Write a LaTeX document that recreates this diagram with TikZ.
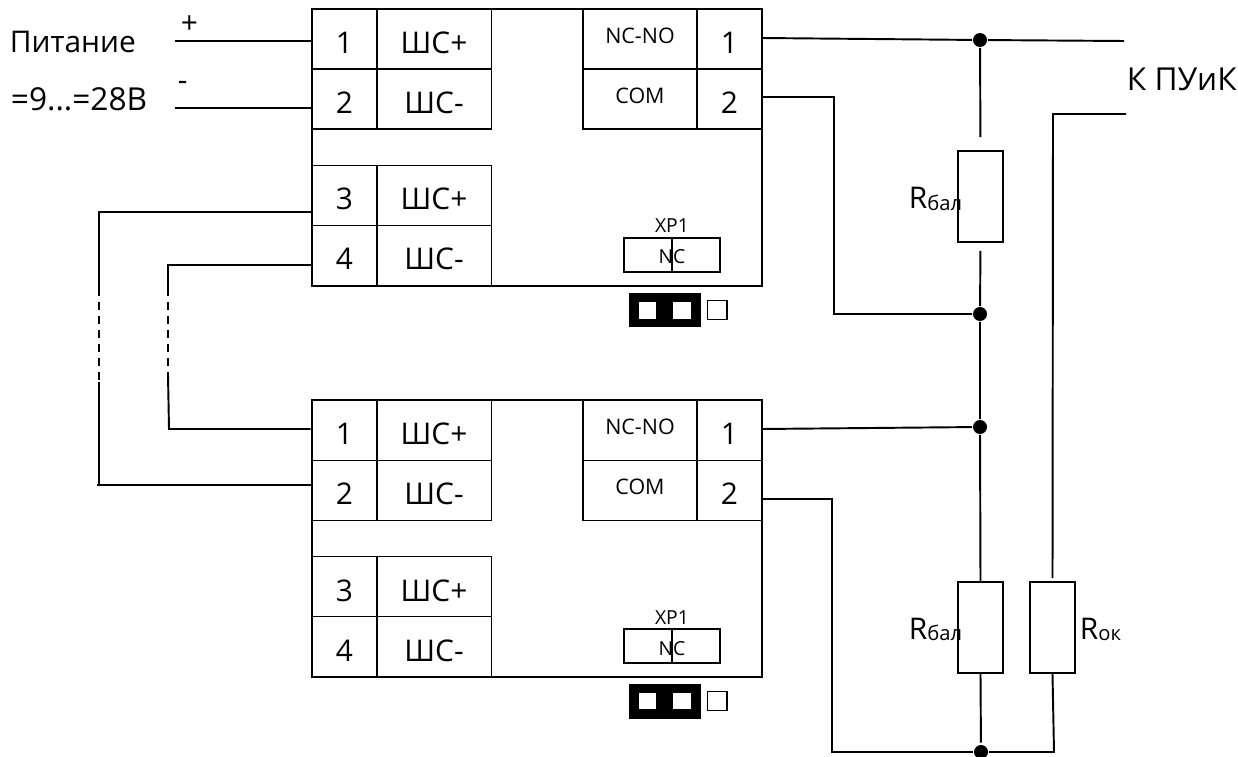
\documentclass[tikz,border=0pt]{standalone}
\usepackage{fontspec}
\setmainfont{Open Sans}

\begin{document}
\begin{tikzpicture}[x=0.02cm,y=-0.02cm,line width=1.1pt,
    numcell/.style={draw,inner sep=0pt,minimum width=1.3cm,minimum height=1.2cm,text height=0.58cm,text depth=0pt,font=\fontsize{17}{20}\selectfont},
    shcell/.style={numcell,minimum width=2.3cm},
    relcell/.style={draw,inner sep=0pt,minimum width=2.28cm,minimum height=1.2cm,text height=0.35cm,text depth=0.18cm,font=\fontsize{12.2}{14}\selectfont},
    block/.style={draw,minimum width=9.02cm,minimum height=5.54cm},
    xpbox/.style={draw,inner sep=0pt,minimum width=1.92cm,minimum height=0.68cm,text height=0.36cm,text depth=0pt,font=\fontsize{11}{13}\selectfont},
    xplabel/.style={anchor=base,inner sep=0pt,font=\fontsize{11}{13}\selectfont},
    res/.style={draw,inner sep=0pt,minimum width=0.9cm,minimum height=1.82cm},
    dot/.style={circle,fill=black,inner sep=0pt,minimum size=0.28cm},
    txt/.style={anchor=base west,inner sep=0pt,font=\fontsize{17}{20}\selectfont},
    bigtxt/.style={txt,font=\fontsize{18}{22}\selectfont},
    gapline/.style={dash pattern=on 0.16cm off 0.12cm}]
      \useasboundingbox (0,0) rectangle (1238,757);
      % Upper block
      \node[block] (blockA) at (537,147.5) {};
      \node[numcell] (numA1) at (344.5,39) {1};
      \node[shcell] (shA1) at (434,39) {ШС+};
      \node[numcell] (numA2) at (344.5,99) {2};
      \node[shcell] (shA2) at (434,99) {ШС-};
      \node[numcell] (numA3) at (344.5,195.5) {3};
      \node[shcell] (shA3) at (434,195.5) {ШС+};
      \node[numcell] (numA4) at (344.5,255.5) {4};
      \node[shcell] (shA4) at (434,255.5) {ШС-};
      \node[relcell] (ncA) at (640,39) {NC-NO};
      \node[relcell] (comA) at (640,99) {COM};
      \node[numcell,minimum width=1.32cm] (outA1) at (729.5,39) {1};
      \node[numcell,minimum width=1.32cm] (outA2) at (729.5,99) {2};
      \node[xpbox] (xpA) at (672,255) {NC};
      \node[xplabel] (xpnameA) at (672,233) {XP1};
      \draw (xpA.north) -- (xpA.south);
      \fill (628.5,293) rectangle (700.5,327);
      \fill[white] (638.5,302) rectangle (656,318.5);
      \fill[white] (673,302) rectangle (690.5,318.5);
      \draw (707.5,300.5) rectangle (727,319.5);
      % Lower block
      \node[block] (blockB) at (537,538.7) {};
      \node[numcell] (numB1) at (344.5,430.5) {1};
      \node[shcell] (shB1) at (434,430.5) {ШС+};
      \node[numcell] (numB2) at (344.5,490.5) {2};
      \node[shcell] (shB2) at (434,490.5) {ШС-};
      \node[numcell] (numB3) at (344.5,586.5) {3};
      \node[shcell] (shB3) at (434,586.5) {ШС+};
      \node[numcell] (numB4) at (344.5,646.5) {4};
      \node[shcell] (shB4) at (434,646.5) {ШС-};
      \node[relcell] (ncB) at (640,430.5) {NC-NO};
      \node[relcell] (comB) at (640,490.5) {COM};
      \node[numcell,minimum width=1.32cm] (outB1) at (729.5,430.5) {1};
      \node[numcell,minimum width=1.32cm] (outB2) at (729.5,490.5) {2};
      \node[xpbox] (xpB) at (672,646) {NC};
      \node[xplabel] (xpnameB) at (672,624) {XP1};
      \draw (xpB.north) -- (xpB.south);
      \fill (628.5,684) rectangle (700.5,718.5);
      \fill[white] (638.5,692.5) rectangle (656,709);
      \fill[white] (673,692.5) rectangle (690.5,709);
      \draw (707.5,691.5) rectangle (727,710.5);
      % Power input
      \node[txt] (pwrname) at (9,53) {Питание};
      \node[bigtxt] (pwrvolt) at (10,111) {=9...=28В};
      \node[txt] (plus) at (180,34) {+};
      \node[txt] (minus) at (177,91) {-};
      \coordinate (pwrP) at (175,41);
      \coordinate (pwrN) at (175,108);
      \draw (pwrP) -- (pwrP -| blockA.west);
      \draw (pwrN) -- (pwrN -| blockA.west);
      % Loop between blocks
      \coordinate (loopA) at (99,212);
      \coordinate (loopB) at (168,265);
      \coordinate (loopC) at (169,429);
      \coordinate (loopD) at (97,485);
      \coordinate (gapAt) at (99,288);
      \coordinate (gapAb) at (99,382);
      \coordinate (gapBt) at (168,288);
      \coordinate (gapBb) at (168,375);
      \draw (blockA.west |- loopA) -- (loopA) -- (gapAt);
      \draw[gapline] (gapAt) -- (gapAb);
      \draw (gapAb) -- (99,485);
      \draw (loopD) -- (loopD -| blockB.west);
      \draw (blockA.west |- loopB) -- (loopB) -- (gapBt);
      \draw[gapline] (gapBt) -- (gapBb);
      \draw (gapBb) -- (loopC) -- (loopC -| blockB.west);
      % Resistors
      \node[res] (rbalA) at (980.5,196.5) {};
      \node[res] (rbalB) at (980.5,627.5) {};
      \node[res] (rok) at (1052.5,627.5) {};
      \node[txt] (rbalAname) at (908,209) {R{\fontsize{11.5}{13}\selectfont\raisebox{-1pt}{бал}}};
      \node[txt] (rbalBname) at (908,639) {R{\fontsize{11.5}{13}\selectfont\raisebox{-1pt}{бал}}};
      \node[txt] (rokname) at (1079,639) {R{\fontsize{11.5}{13}\selectfont\raisebox{-1pt}{ок}}};
      \node[bigtxt] (kpuik) at (1126,91) {К ПУиК};
      \node[dot] (dotA) at (980,40) {};
      \node[dot] (dotB) at (980,314) {};
      \node[dot] (dotC) at (980,427) {};
      \node[dot] (dotD) at (981,752) {};
      % Output wires
      \coordinate (outAy) at (762,38);
      \coordinate (kinkA) at (834,97);
      \coordinate (outBy) at (762,429);
      \coordinate (kinkB) at (832,499);
      \coordinate (endT) at (1124,41);
      \coordinate (endB) at (1126,114);
      \coordinate (cornerR) at (1053,114);
      \coordinate (cornerB) at (1054,752);
      \draw (outAy) -- (dotA) -- (endT);
      \draw (kinkA -| blockA.east) -- (kinkA) |- (dotB);
      \draw (outBy) -- (dotC);
      \draw (kinkB -| blockB.east) -- (kinkB) |- (dotD);
      \draw (dotD) -- (cornerB) -- (rok.south);
      \draw[shorten >=0.26cm] (dotA) -- (rbalA.north);
      \draw[shorten <=0.16cm] (rbalA.south) -- (dotB);
      \draw (dotB) -- (dotC) -- (rbalB.north);
      \draw[shorten >=0.03cm] (rbalB.south) -- (dotD);
      \draw[shorten >=0.06cm] (endB) -- (cornerR) -- (rok.north);
    \end{tikzpicture}
\end{document}
